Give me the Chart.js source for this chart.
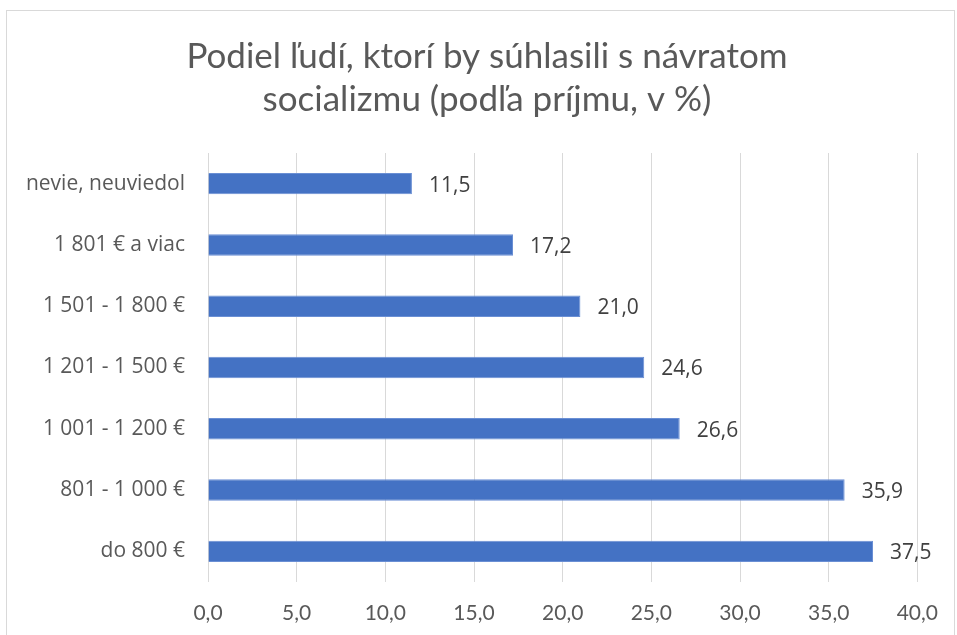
<!DOCTYPE html>
<html>
<head>
<meta charset="utf-8">
<script src="https://cdn.jsdelivr.net/npm/chart.js@4.4.1/dist/chart.umd.min.js"></script>
<style>
  html, body { margin: 0; padding: 0; background: #fff; }
  #wrap { position: relative; width: 957px; height: 635px; }
</style>
</head>
<body>
<div id="wrap"><canvas id="incomeChart"></canvas></div>
<script>
const categories = ['nevie, neuviedol', '1 801 € a viac', '1 501 - 1 800 €', '1 201 - 1 500 €', '1 001 - 1 200 €', '801 - 1 000 €', 'do 800 €'];
const shares = [11.5, 17.2, 21.0, 24.6, 26.6, 35.9, 37.5];
const titleLines = ['Podiel ľudí, ktorí by súhlasili s návratom', 'socializmu (podľa príjmu, v %)'];

const NARROW = 'Lato, sans-serif';
const WIDE = '"Open Sans", sans-serif';

// chart border + title (title sits a bit right of canvas centre, as in Excel)
const framePlugin = {
  id: 'frame',
  beforeDraw(chart) {
    const c = chart.ctx;
    c.save();
    c.strokeStyle = '#d9d9d9';
    c.lineWidth = 1;
    c.strokeRect(6.5, 10.5, 948, 640);
    c.fillStyle = '#595959';
    c.font = '35px ' + NARROW;
    c.textAlign = 'center';
    c.textBaseline = 'middle';
    titleLines.forEach((line, i) => c.fillText(line, 487, 57 + i * 43));
    c.restore();
  }
};

// value labels to the right of each bar
const valueLabels = {
  id: 'valueLabels',
  afterDatasetsDraw(chart) {
    const c = chart.ctx;
    const meta = chart.getDatasetMeta(0);
    c.save();
    c.font = '21px ' + WIDE;
    c.fillStyle = '#404040';
    c.textAlign = 'left';
    c.textBaseline = 'middle';
    meta.data.forEach((bar, i) => {
      const txt = shares[i].toFixed(1).replace('.', ',');
      c.fillText(txt, bar.x + 17, bar.y + 2);
    });
    c.restore();
  }
};

new Chart(document.getElementById('incomeChart').getContext('2d'), {
  type: 'bar',
  data: {
    labels: categories,
    datasets: [{
      data: shares,
      backgroundColor: '#4472C4',
      borderColor: '#6a8fd4',
      borderWidth: 1,
      categoryPercentage: 1.0,
      barPercentage: 0.35
    }]
  },
  options: {
    indexAxis: 'y',
    responsive: true,
    maintainAspectRatio: false,
    animation: false,
    layout: { padding: { left: 0, right: 31, top: 153, bottom: 8 } },
    scales: {
      x: {
        min: 0,
        max: 40,
        afterFit(scale) { scale.height = 45; },
        ticks: {
          stepSize: 5,
          color: '#595959',
          font: { family: NARROW, size: 21 },
          padding: 19,
          callback: v => v.toFixed(1).replace('.', ',')
        },
        grid: { color: '#d9d9d9', lineWidth: 1, drawTicks: false },
        border: { display: false }
      },
      y: {
        afterFit(scale) { scale.width = 208; },
        ticks: {
          color: '#595959',
          font: { family: WIDE, size: 21 },
          padding: 23
        },
        grid: { display: false, drawTicks: false },
        border: { display: false }
      }
    },
    plugins: {
      legend: { display: false },
      tooltip: { enabled: false },
      title: { display: false }
    }
  },
  plugins: [framePlugin, valueLabels]
});
</script>
</body>
</html>
